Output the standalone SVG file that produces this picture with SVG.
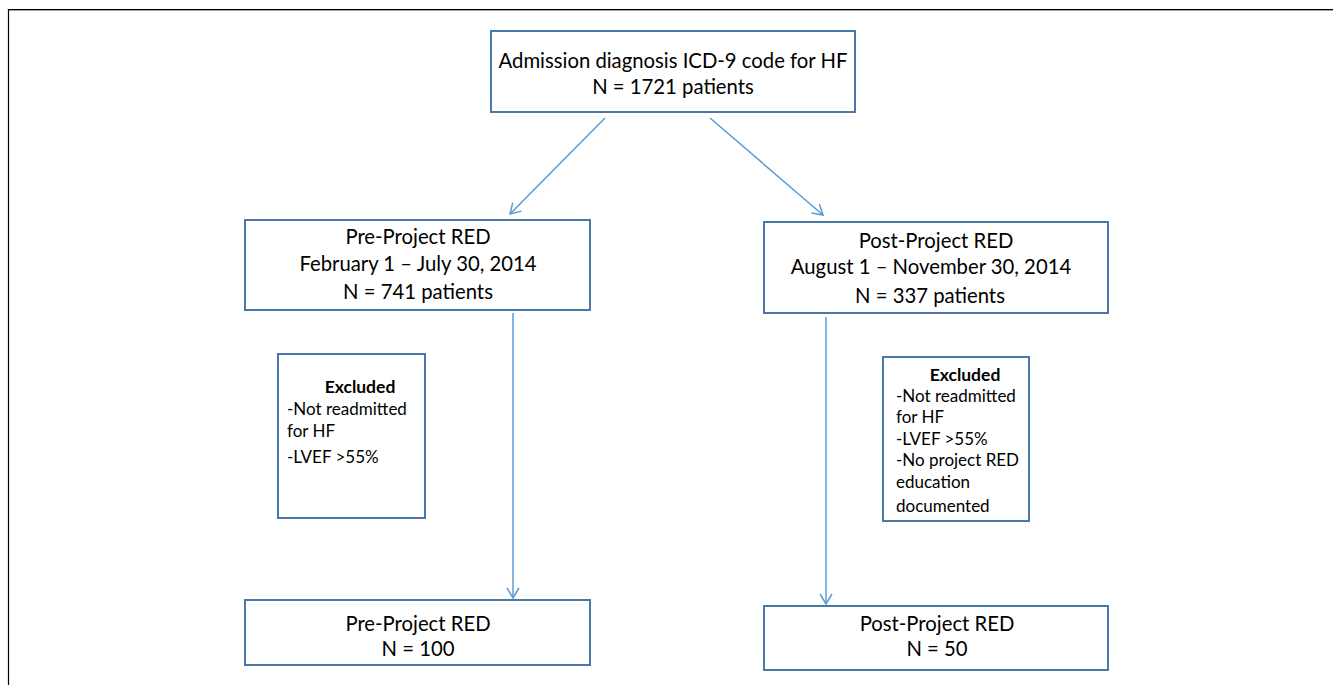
<svg xmlns="http://www.w3.org/2000/svg" width="1333" height="685" viewBox="0 0 1333 685">
<style>
.box{fill:#fff;stroke:#4a78a8;stroke-width:2}
.t{font-family:Lato,"Liberation Sans",sans-serif;font-size:20.3px;fill:#000;text-anchor:middle}
.s{font-family:Lato,"Liberation Sans",sans-serif;font-size:17px;fill:#000}
.b{font-weight:bold;text-anchor:middle;font-size:17.5px}
.c{fill:none;stroke:#5b9bd5;stroke-width:1.5;marker-end:url(#ah)}
</style>
<defs>
<marker id="ah" markerWidth="14" markerHeight="14" refX="11" refY="7" orient="auto" markerUnits="userSpaceOnUse">
<path d="M1,1 L11,7 L1,13" fill="none" stroke="#5b9bd5" stroke-width="1.5"/>
</marker>
</defs>
<rect width="1333" height="685" fill="#fff"/>
<g id="frame">
<line x1="8" y1="10.5" x2="1333" y2="10.5" stroke="#a0a0a0" stroke-width="1"/>
<line x1="8" y1="9.5" x2="1333" y2="9.5" stroke="#000" stroke-width="1.2"/>
<line x1="8.5" y1="9" x2="8.5" y2="685" stroke="#000" stroke-width="1.2"/>
</g>
<g id="connectors">
<line class="c" x1="605" y1="118" x2="510" y2="214"/>
<line class="c" x1="710" y1="118" x2="823" y2="215"/>
<line class="c" x1="513" y1="313" x2="513" y2="598"/>
<line class="c" x1="826" y1="317" x2="826" y2="604"/>
</g>
<g id="n-admission">
<rect class="box" x="491" y="31" width="364" height="81"/>
<text class="t" x="673" y="68">Admission diagnosis ICD-9 code for HF</text>
<text class="t" x="673" y="94">N = 1721 patients</text>
</g>
<g id="n-pre">
<rect class="box" x="245" y="220" width="345" height="90"/>
<text class="t" x="418" y="244">Pre-Project RED</text>
<text class="t" x="418" y="271">February 1 – July 30, 2014</text>
<text class="t" x="418" y="299">N = 741 patients</text>
</g>
<g id="n-post">
<rect class="box" x="764" y="222" width="344" height="91"/>
<text class="t" x="936" y="248">Post-Project RED</text>
<text class="t" x="931" y="274">August 1 – November 30, 2014</text>
<text class="t" x="930" y="303">N = 337 patients</text>
</g>
<g id="n-excl-pre">
<rect class="box" x="278" y="354" width="147" height="164"/>
<text class="s b" x="360" y="393">Excluded</text>
<text class="s" x="287" y="415">-Not readmitted</text>
<text class="s" x="287" y="437">for HF</text>
<text class="s" x="287" y="463">-LVEF &gt;55%</text>
</g>
<g id="n-excl-post">
<rect class="box" x="883" y="357" width="146" height="164"/>
<text class="s b" x="965" y="381">Excluded</text>
<text class="s" x="896" y="402">-Not readmitted</text>
<text class="s" x="896" y="423">for HF</text>
<text class="s" x="896" y="445">-LVEF &gt;55%</text>
<text class="s" x="896" y="466">-No project RED</text>
<text class="s" x="896" y="488">education</text>
<text class="s" x="896" y="512">documented</text>
</g>
<g id="n-pre-final">
<rect class="box" x="245" y="600" width="345" height="65"/>
<text class="t" x="418" y="631">Pre-Project RED</text>
<text class="t" x="418" y="656">N = 100</text>
</g>
<g id="n-post-final">
<rect class="box" x="764" y="606" width="344" height="64"/>
<text class="t" x="937" y="631">Post-Project RED</text>
<text class="t" x="937" y="656">N = 50</text>
</g>
</svg>
